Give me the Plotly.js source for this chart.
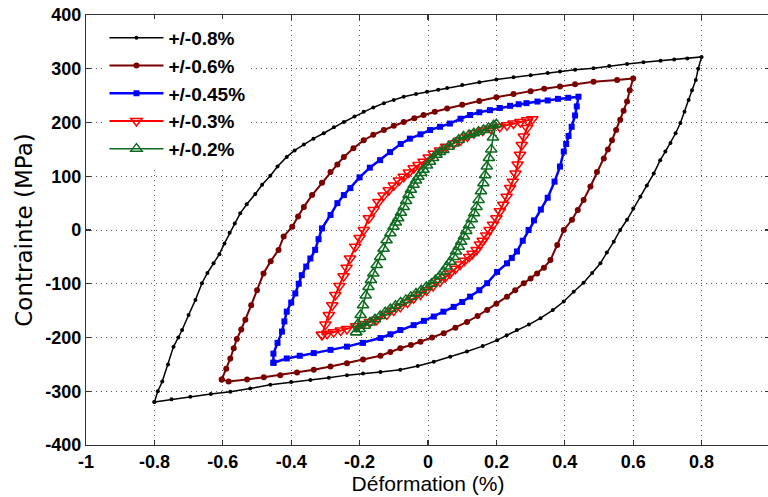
<!DOCTYPE html>
<html>
<head>
<meta charset="utf-8">
<script src="https://cdn.plot.ly/plotly-3.0.1.min.js"></script>
<style>
html,body{margin:0;padding:0;overflow:hidden;background:#fff;}
#chart{width:770px;height:497px;}
</style>
</head>
<body>
<div id="chart"></div>
<script>
// ---- data ----
const seriesNames = ['+/-0.8%', '+/-0.6%', '+/-0.45%', '+/-0.3%', '+/-0.2%'];

// +/-0.8 % loop (loading branch then unloading branch)
const strain08 = [-0.80,-0.79,-0.777,-0.76,-0.744,-0.73,-0.719,-0.70,-0.68,-0.661,-0.645,-0.627,-0.61,-0.595,-0.58,-0.565,-0.549,-0.53,-0.505,-0.485,-0.461,-0.44,-0.413,-0.39,-0.363,-0.335,-0.305,-0.275,-0.246,-0.215,-0.188,-0.16,-0.129,-0.10,-0.071,-0.035,-0.003,0.03,0.056,0.10,0.15,0.20,0.25,0.30,0.35,0.386,0.43,0.484,0.53,0.582,0.63,0.68,0.72,0.758,0.80,
  0.79,0.783,0.772,0.762,0.75,0.738,0.724,0.709,0.694,0.679,0.66,0.64,0.621,0.60,0.582,0.562,0.543,0.523,0.504,0.48,0.455,0.426,0.397,0.365,0.329,0.295,0.26,0.23,0.202,0.16,0.114,0.065,0.017,-0.03,-0.081,-0.139,-0.19,-0.237,-0.29,-0.344,-0.40,-0.461,-0.52,-0.578,-0.635,-0.695,-0.75,-0.80];
const stress08 = [-320,-300,-282,-250,-217,-200,-186,-158,-130,-99,-80,-62,-45,-25,-5,12,31,48,67,84,101,118,136,148,159,170,180,191,201,211,220,228,236,242,248,253,257,261,264,270,275,280,284,288,292,295,298,301,305,309,312,315,317,319,322,
  300,279,260,242,220,199,180,162,146,130,105,83,62,40,19,0,-22,-42,-62,-80,-98,-115,-133,-149,-164,-176,-186,-196,-205,-216,-226,-236,-245,-253,-260,-264,-267,-270,-275,-279,-283,-288,-295,-301,-305,-310,-315,-320];

// +/-0.6 % loop
const strain06 = [-0.603,-0.59,-0.578,-0.568,-0.559,-0.546,-0.534,-0.517,-0.50,-0.481,-0.46,-0.437,-0.422,-0.397,-0.38,-0.363,-0.339,-0.31,-0.285,-0.265,-0.246,-0.218,-0.188,-0.16,-0.129,-0.10,-0.071,-0.04,-0.013,0.02,0.056,0.10,0.15,0.20,0.25,0.30,0.34,0.386,0.43,0.484,0.553,0.60,
  0.59,0.582,0.572,0.562,0.55,0.538,0.526,0.514,0.494,0.475,0.455,0.438,0.421,0.397,0.378,0.358,0.339,0.319,0.30,0.28,0.255,0.231,0.20,0.173,0.145,0.114,0.08,0.046,0.012,-0.022,-0.05,-0.081,-0.11,-0.139,-0.19,-0.237,-0.285,-0.334,-0.383,-0.432,-0.48,-0.529,-0.583,-0.603];
const stress06 = [-278,-258,-239,-220,-203,-185,-167,-140,-112,-81,-58,-37,-12,6,25,43,65,88,108,122,136,152,167,177,186,194,201,208,214,220,226,233,240,247,253,258,263,267,271,276,279,282,
  260,239,222,205,186,167,150,133,108,81,56,37,19,0,-28,-56,-70,-81,-90,-99,-112,-124,-137,-149,-160,-171,-182,-192,-200,-208,-214,-220,-227,-234,-241,-248,-254,-260,-265,-270,-274,-278,-282,-278];

// +/-0.45 % loop
const strain045 = [-0.452,-0.452,-0.44,-0.427,-0.42,-0.413,-0.40,-0.388,-0.378,-0.369,-0.356,-0.344,-0.33,-0.32,-0.31,-0.285,-0.265,-0.246,-0.227,-0.20,-0.17,-0.14,-0.111,-0.08,-0.053,-0.022,0.006,0.035,0.064,0.095,0.123,0.15,0.181,0.21,0.24,0.265,0.288,0.32,0.35,0.38,0.41,0.44,
  0.435,0.43,0.42,0.411,0.404,0.397,0.386,0.37,0.35,0.33,0.31,0.294,0.277,0.26,0.245,0.231,0.202,0.173,0.15,0.123,0.10,0.075,0.045,0.017,-0.012,-0.042,-0.081,-0.11,-0.139,-0.19,-0.237,-0.285,-0.334,-0.375,-0.413,-0.452];
const stress045 = [-247,-230,-210,-189,-170,-152,-135,-118,-100,-84,-68,-53,-37,-17,3,28,50,65,78,98,116,130,145,160,170,178,186,192,198,207,214,219,223,227,231,234,236,239,241,244,246,248,
  230,213,192,175,160,146,118,90,60,38,18,0,-20,-40,-52,-62,-78,-99,-112,-124,-134,-143,-152,-161,-169,-177,-186,-194,-201,-210,-217,-223,-229,-234,-239,-247];

// +/-0.3 % loop
const strain03 = [-0.31,-0.30,-0.29,-0.28,-0.271,-0.259,-0.247,-0.238,-0.228,-0.213,-0.20,-0.188,-0.173,-0.159,-0.145,-0.13,-0.115,-0.10,-0.085,-0.071,-0.056,-0.042,-0.028,-0.013,0.002,0.017,0.035,0.053,0.075,0.095,0.115,0.134,0.16,0.183,0.21,0.231,0.25,0.27,0.29,0.305,
  0.29,0.28,0.274,0.269,0.262,0.256,0.248,0.24,0.23,0.22,0.21,0.20,0.19,0.18,0.17,0.16,0.152,0.142,0.13,0.12,0.107,0.094,0.08,0.064,0.05,0.035,0.015,-0.004,-0.022,-0.042,-0.06,-0.081,-0.10,-0.12,-0.15,-0.17,-0.189,-0.21,-0.237,-0.255,-0.276,-0.295,-0.31];
const stress03 = [-195,-176,-158,-140,-121,-104,-86,-70,-53,-31,-15,0,22,37,52,64,74,83,92,99,107,115,121,127,135,142,148,155,161,167,174,180,185,189,192,195,198,201,204,206,
  190,174,158,140,122,105,90,78,62,47,35,22,10,0,-10,-20,-27,-37,-44,-50,-57,-64,-72,-81,-88,-96,-104,-112,-120,-127,-135,-143,-150,-157,-167,-171,-175,-179,-184,-187,-190,-193,-195];

// +/-0.2 % loop
const strain02 = [-0.21,-0.205,-0.197,-0.19,-0.182,-0.174,-0.167,-0.16,-0.15,-0.14,-0.13,-0.121,-0.11,-0.101,-0.094,-0.087,-0.079,-0.071,-0.064,-0.057,-0.05,-0.042,-0.035,-0.028,-0.02,-0.013,-0.003,0.006,0.015,0.025,0.035,0.045,0.06,0.075,0.09,0.104,0.12,0.134,0.148,0.162,0.177,0.192,0.20,
  0.19,0.185,0.178,0.172,0.167,0.162,0.155,0.148,0.142,0.135,0.128,0.12,0.112,0.105,0.097,0.09,0.082,0.075,0.065,0.055,0.045,0.035,0.022,0.01,-0.005,-0.02,-0.035,-0.05,-0.065,-0.08,-0.095,-0.11,-0.125,-0.14,-0.155,-0.17,-0.185,-0.2,-0.21];
const stress02 = [-190,-175,-158,-140,-122,-106,-93,-81,-65,-50,-35,-19,-6,6,14,22,32,43,54,65,75,84,92,99,106,112,120,127,134,140,145,149,155,161,168,174,177,180,183,186,190,195,197,
  172,150,134,118,102,87,72,56,43,31,20,9,-2,-12,-22,-31,-40,-50,-59,-68,-77,-85,-93,-100,-106,-112,-118,-124,-130,-135,-141,-147,-153,-160,-166,-172,-178,-184,-190];

const xTickVals = [-1,-0.8,-0.6,-0.4,-0.2,0,0.2,0.4,0.6,0.8,1];
const xTickText = ['-1','-0.8','-0.6','-0.4','-0.2','0','0.2','0.4','0.6','0.8','1'];
const yTickVals = [-400,-300,-200,-100,0,100,200,300,400];
const yTickText = ['-400','-300','-200','-100','0','100','200','300','400'];

// ---- traces ----
const styles = [
  {color:'#000000', width:1.5, symbol:'circle', size:4, fill:'#000000', mlw:0},
  {color:'#7a0000', width:2, symbol:'circle', size:6, fill:'#7a0000', mlw:0},
  {color:'#0000ff', width:2.5, symbol:'square', size:6, fill:'#0000ff', mlw:0},
  {color:'#ff0000', width:2, symbol:'triangle-down-open', size:10, fill:'#ff0000', mlw:1.5},
  {color:'#0b6b1f', width:1.5, symbol:'triangle-up-open', size:10, fill:'#0b6b1f', mlw:1.5}
];
const xs = [strain08, strain06, strain045, strain03, strain02];
const ys = [stress08, stress06, stress045, stress03, stress02];

const traces = xs.map((x, i) => ({
  type:'scatter', mode:'lines+markers', x:x, y:ys[i], name:seriesNames[i],
  legendgroup:'g'+i,
  line:{color:styles[i].color, width:styles[i].width},
  marker:{symbol:styles[i].symbol, size:styles[i].size, color:styles[i].fill,
          line:{color:styles[i].color, width:styles[i].mlw}}
}));

const axisCommon = {
  showgrid:true, gridcolor:'#555', griddash:'1px,4px', gridwidth:1,
  zeroline:false, showline:true, linecolor:'#333', linewidth:1.2, mirror:'ticks',
  ticks:'inside', ticklen:5, tickcolor:'#333', tickwidth:1.2,
  tickfont:{family:'Liberation Sans, Arial, sans-serif', size:18, color:'#000', weight:'bold'},
  automargin:false
};

const layout = {
  width:770, height:497,
  margin:{l:86, r:0, t:15, b:52},
  paper_bgcolor:'#fff', plot_bgcolor:'#fff',
  showlegend:true,
  legend:{x:0.027, y:0.9907, xanchor:'left', yanchor:'top', bgcolor:'#fff', borderwidth:0,
          font:{family:'Liberation Sans, Arial, sans-serif', size:19, color:'#000', weight:'bold'},
          itemwidth:54, traceorder:'grouped', tracegroupgap:0},
  xaxis:Object.assign({}, axisCommon, {range:[-1,1], tickvals:xTickVals, ticktext:xTickText,
          title:{text:'Déformation (%)', standoff:5, font:{family:'Liberation Sans, Arial, sans-serif', size:21, color:'#000'}}}),
  yaxis:Object.assign({}, axisCommon, {range:[-400,400], tickvals:yTickVals, ticktext:yTickText,
          title:{text:'Contrainte (MPa)', standoff:6, font:{family:'DejaVu Sans, sans-serif', size:23, color:'#000'}}})
};

Plotly.newPlot('chart', traces, layout, {displayModeBar:false, staticPlot:true});
</script>
</body>
</html>
